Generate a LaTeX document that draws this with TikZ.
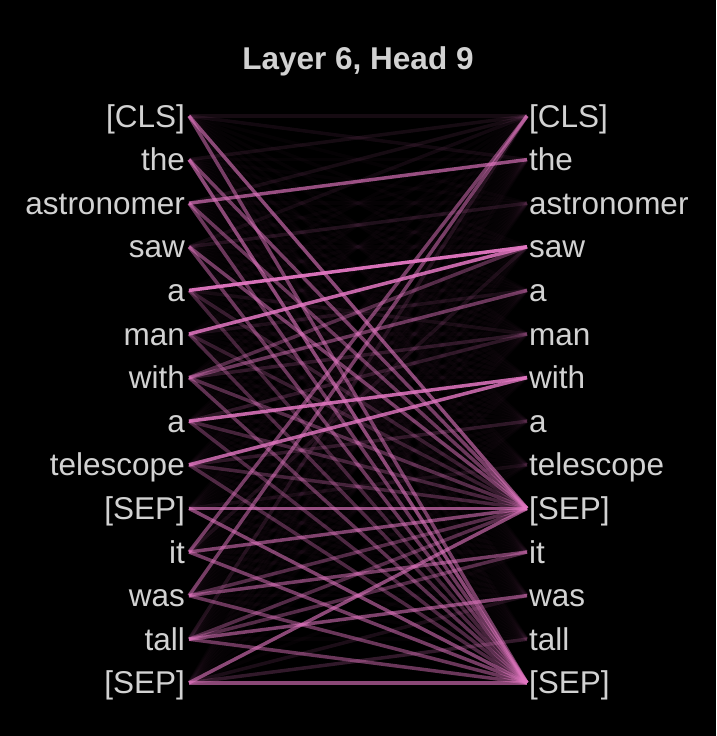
\documentclass[tikz,border=0pt]{standalone}
\usepackage{fontspec}
\setmainfont{Liberation Sans}
\definecolor{linec}{HTML}{E377C2}
\definecolor{txt}{HTML}{D2D2D2}
\tikzset{
  att/.style={draw=linec, line width=3.5pt},
  tok/.style={text=txt, inner sep=0pt, font=\fontsize{31.5}{36}\selectfont},
  ttl/.style={text=txt, inner sep=0pt, font=\fontsize{31.5}{36}\selectfont\bfseries, anchor=base}
}
\begin{document}
\begin{tikzpicture}[x=1pt,y=-1pt]
\fill[black] (0,0) rectangle (716,736);
\useasboundingbox (0,0) rectangle (716,736);
\node[ttl] (title) at (358,69) {Layer 6, Head 9};
\foreach \t [count=\k from 0] in {{[CLS]},the,astronomer,saw,a,man,with,a,telescope,{[SEP]},it,was,tall,{[SEP]}}{
  \node[tok, anchor=base east] (L\k) at (185,116+43.6*\k+11) {\t};
  \node[tok, anchor=base west] (R\k) at (529,116+43.6*\k+11) {\t};
  \coordinate (l\k) at (189,116+43.6*\k);
  \coordinate (r\k) at (527,116+43.6*\k);
}
% faint background attention
\foreach \i in {0,...,13}{
  \foreach \j in {0,...,13}{
    \draw[att, draw opacity=0.025] (l\i) -- (r\j);
  }
}
% main attention weights
\foreach \i/\j/\w in {
  0/9/0.6, 0/13/0.5, 0/0/0.08, 0/1/0.06,
  1/13/0.6, 1/9/0.5, 1/0/0.08,
  2/1/0.65, 2/9/0.45, 2/13/0.45, 2/0/0.08,
  3/9/0.5, 3/13/0.45, 3/2/0.12, 3/0/0.06,
  4/3/0.95, 4/9/0.22, 4/13/0.28, 4/5/0.08,
  5/3/0.85, 5/9/0.22, 5/13/0.32, 5/4/0.1,
  6/4/0.45, 6/3/0.35, 6/5/0.18, 6/9/0.35, 6/13/0.4,
  7/6/0.85, 7/9/0.28, 7/13/0.32, 7/5/0.18,
  8/6/0.8, 8/9/0.28, 8/13/0.32, 8/7/0.18,
  9/9/0.65, 9/13/0.55, 9/8/0.08,
  10/0/0.5, 10/9/0.55, 10/13/0.5, 10/3/0.1,
  11/0/0.5, 11/10/0.5, 11/9/0.35, 11/13/0.45,
  12/11/0.55, 12/10/0.35, 12/9/0.35, 12/13/0.45, 12/0/0.12,
  13/13/0.6, 13/9/0.6, 13/12/0.2, 13/11/0.1
}{
  \draw[att, draw opacity=\w] (l\i) -- (r\j);
}
\end{tikzpicture}
\end{document}
